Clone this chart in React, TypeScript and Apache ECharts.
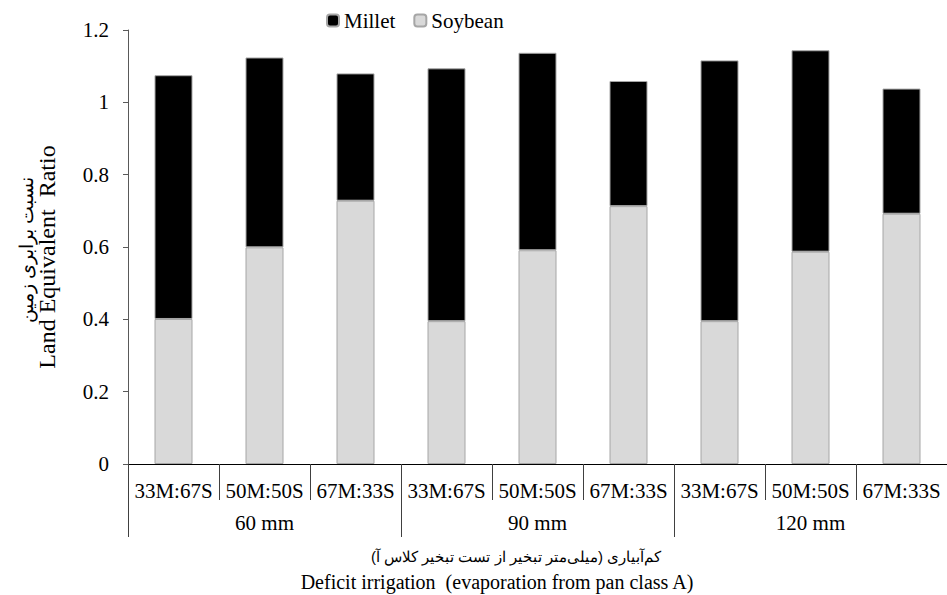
import React, { useEffect, useRef } from "react";
import * as echarts from "echarts";

const categories = [
  "33M:67S", "50M:50S", "67M:33S",
  "33M:67S", "50M:50S", "67M:33S",
  "33M:67S", "50M:50S", "67M:33S",
];
const groups = ["60 mm", "90 mm", "120 mm"];
const soybean = [0.401, 0.599, 0.728, 0.395, 0.591, 0.713, 0.395, 0.587, 0.692];
const millet = [0.674, 0.525, 0.352, 0.699, 0.546, 0.346, 0.721, 0.557, 0.346];
const yTitleEn = "Land Equivalent  Ratio";
const yTitleFa = "نسبت برابری زمین";
const xTitleEn = "Deficit irrigation  (evaporation from pan class A)";
const xTitleFa = "کم\u200Cآبیاری (میلی\u200Cمتر تبخیر از تست تبخیر کلاس آ)";

const SERIF = "Liberation Serif";

export default function App() {
  const ref = useRef<HTMLDivElement>(null);
  useEffect(() => {
    if (!ref.current) return;
    const chart = echarts.init(ref.current, undefined, { renderer: "svg" });
    chart.setOption({
      animation: false,
      backgroundColor: "#ffffff",
      textStyle: { fontFamily: SERIF, color: "#000" },
      legend: {
        data: ["Millet", "Soybean"],
        left: 321,
        top: 5,
        itemWidth: 12,
        itemHeight: 12,
        itemGap: 18,
        selectedMode: false,
        textStyle: { fontFamily: SERIF, fontSize: 21, color: "#000" },
      },
      grid: { left: 128, top: 30, width: 829, height: 434, containLabel: false },
      xAxis: [
        {
          type: "category",
          data: categories,
          position: "bottom",
          offset: 0,
          axisLine: { show: true, lineStyle: { color: "#000", width: 1 } },
          axisTick: { show: true, interval: 0, length: 36, lineStyle: { color: "#404040" } },
          axisLabel: { interval: 0, margin: 16, fontSize: 21, fontFamily: SERIF, color: "#000" },
          splitLine: { show: false },
        },
        {
          type: "category",
          data: groups,
          position: "bottom",
          offset: 0,
          axisLine: { show: false },
          axisTick: { show: true, interval: 0, length: 73, lineStyle: { color: "#404040" } },
          axisLabel: { interval: 0, margin: 48, fontSize: 21, fontFamily: SERIF, color: "#000" },
          splitLine: { show: false },
        },
      ],
      yAxis: {
        type: "value",
        min: 0,
        max: 1.2,
        interval: 0.2,
        axisLine: { show: true, lineStyle: { color: "#595959" } },
        axisTick: { show: true, length: 5, lineStyle: { color: "#595959" } },
        axisLabel: {
          margin: 19,
          fontSize: 21,
          fontFamily: SERIF,
          color: "#000",
          formatter: (v: number) => String(Math.round(v * 10) / 10),
        },
        splitLine: { show: false },
      },
      series: [
        {
          name: "Soybean",
          type: "bar",
          stack: "total",
          barWidth: 38,
          data: soybean,
          itemStyle: { color: "#d9d9d9", borderColor: "#a6a6a6", borderWidth: 1 },
        },
        {
          name: "Millet",
          type: "bar",
          stack: "total",
          barWidth: 38,
          data: millet,
          itemStyle: { color: "#000000", borderColor: "#a6a6a6", borderWidth: 1 },
        },
      ],
      graphic: [
        {
          type: "text",
          x: 26,
          y: 250,
          rotation: Math.PI / 2,
          style: {
            text: yTitleFa,
            fontSize: 19,
            fill: "#000",
            align: "center",
            verticalAlign: "middle",
          },
        },
        {
          type: "text",
          x: 47,
          y: 257,
          rotation: Math.PI / 2,
          style: {
            text: yTitleEn,
            fontSize: 24,
            fontFamily: SERIF,
            fill: "#000",
            align: "center",
            verticalAlign: "middle",
          },
        },
        {
          type: "text",
          x: 516,
          y: 556,
          style: {
            text: xTitleFa,
            fontSize: 15,
            fill: "#000",
            align: "center",
            verticalAlign: "middle",
          },
        },
        {
          type: "text",
          x: 497,
          y: 582,
          style: {
            text: xTitleEn,
            fontSize: 20,
            fontFamily: SERIF,
            fill: "#000",
            align: "center",
            verticalAlign: "middle",
          },
        },
      ],
    });
    return () => chart.dispose();
  }, []);
  return (
    <div
      ref={ref}
      style={{ position: "fixed", left: 0, top: 0, width: 947, height: 595, background: "#fff" }}
    />
  );
}
